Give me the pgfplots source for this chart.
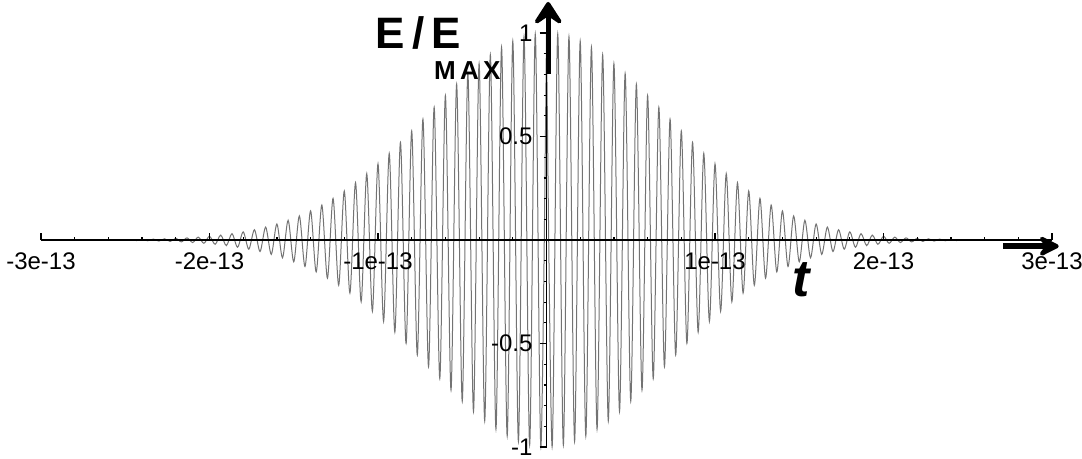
\documentclass[border=0pt]{standalone}
\usepackage{fontspec}
\setmainfont{Liberation Sans}
\usepackage{pgfplots}
\pgfplotsset{compat=1.18}
\usepackage{pgfplotstable}
\usetikzlibrary{arrows.meta}

% Gaussian pulse E/Emax: crests and troughs of the carrier, t >= 0 (t in units of 1e-13 s)
\pgfplotstableread{
t E
0.0000 1.00000
0.0333 -0.99889
0.0667 0.99557
0.1000 -0.99005
0.1333 0.98238
0.1667 -0.97260
0.2000 0.96079
0.2333 -0.94701
0.2667 0.93136
0.3000 -0.91393
0.3333 0.89484
0.3667 -0.87420
0.4000 0.85214
0.4333 -0.82880
0.4667 0.80430
0.5000 -0.77880
0.5333 0.75243
0.5667 -0.72534
0.6000 0.69768
0.6333 -0.66958
0.6667 0.64118
0.7000 -0.61263
0.7333 0.58404
0.7667 -0.55555
0.8000 0.52729
0.8333 -0.49935
0.8667 0.47185
0.9000 -0.44486
0.9333 0.41849
0.9667 -0.39281
1.0000 0.36788
1.0333 -0.34377
1.0667 0.32052
1.1000 -0.29820
1.1333 0.27680
1.1667 -0.25637
1.2000 0.23693
1.2333 -0.21847
1.2667 0.20100
1.3000 -0.18452
1.3333 0.16901
1.3667 -0.15446
1.4000 0.14086
1.4333 -0.12816
1.4667 0.11635
1.5000 -0.10540
1.5333 0.09526
1.5667 -0.08590
1.6000 0.07730
1.6333 -0.06940
1.6667 0.06218
1.7000 -0.05558
1.7333 0.04958
1.7667 -0.04412
1.8000 0.03916
1.8333 -0.03470
1.8667 0.03067
1.9000 -0.02705
1.9333 0.02381
1.9667 -0.02090
2.0000 0.01832
2.0333 -0.01601
2.0667 0.01396
2.1000 -0.01215
2.1333 0.01055
2.1667 -0.00915
2.2000 0.00791
2.2333 -0.00683
2.2667 0.00588
2.3000 -0.00504
2.3333 0.00432
2.3667 -0.00369
2.4000 0.00315
2.4333 -0.00268
2.4667 0.00228
2.5000 -0.00193
}\pulse

\begin{document}
\begin{tikzpicture}
\begin{axis}[
  x=84.25pt, y=103.5pt,
  xmin=-3, xmax=3, ymin=-1, ymax=1,
  enlargelimits=false, clip=false,
  axis lines=middle, axis on top,
  axis line style={-, line width=0.7pt, black},
  xtick={-3,-2,-1,1,2,3},
  xticklabels={-3e-13,-2e-13,-1e-13,1e-13,2e-13,3e-13},
  ytick={-1,-0.5,0.5,1},
  yticklabels={-1,-0.5,0.5,1},
  minor xtick={-2.8,-2.6,...,2.81},
  minor ytick={-0.9,-0.8,...,0.91},
  xtick align=inside, ytick align=outside,
  major tick length=3.5pt, minor tick length=1.5pt,
  tick style={black, line width=0.6pt},
  ticklabel style={font=\fontsize{12}{14}\selectfont},
  xticklabel style={yshift=-3pt},
]
\coordinate (bl) at (rel axis cs:0,0);
\coordinate (tr) at (rel axis cs:1,1);
\addplot[smooth, black!55, line width=0.5pt] table[x=t, y=E] {\pulse};
\addplot[smooth, black!55, line width=0.5pt] table[x expr=-\thisrow{t}, y=E] {\pulse};
% hand-drawn axis arrows and labels
\draw[line width=2.4pt, -{Stealth[length=14pt,width=18pt,inset=6pt,round]}]
  (axis cs:0.01,0.80) -- (axis cs:0.01,1.15);
\draw[line width=2.8pt, -{Stealth[length=13pt,width=13pt,inset=5pt,round]}]
  (axis cs:2.71,-0.03) -- (axis cs:3.04,-0.03);
\node[font=\fontsize{22}{22}\selectfont\bfseries] at (axis cs:-0.76,1.0) {E\,/\,E};
\node[font=\fontsize{13}{13}\selectfont\bfseries] at (axis cs:-0.47,0.82) {M\,A\,X};
\node[font=\fontsize{26}{26}\selectfont\bfseries\itshape] at (axis cs:1.51,-0.19) {t};
\end{axis}
\pgfresetboundingbox
\path[use as bounding box] ([xshift=-20.5pt,yshift=-5.5pt]bl) rectangle ([xshift=15pt,yshift=16.5pt]tr);
\end{tikzpicture}
\end{document}
